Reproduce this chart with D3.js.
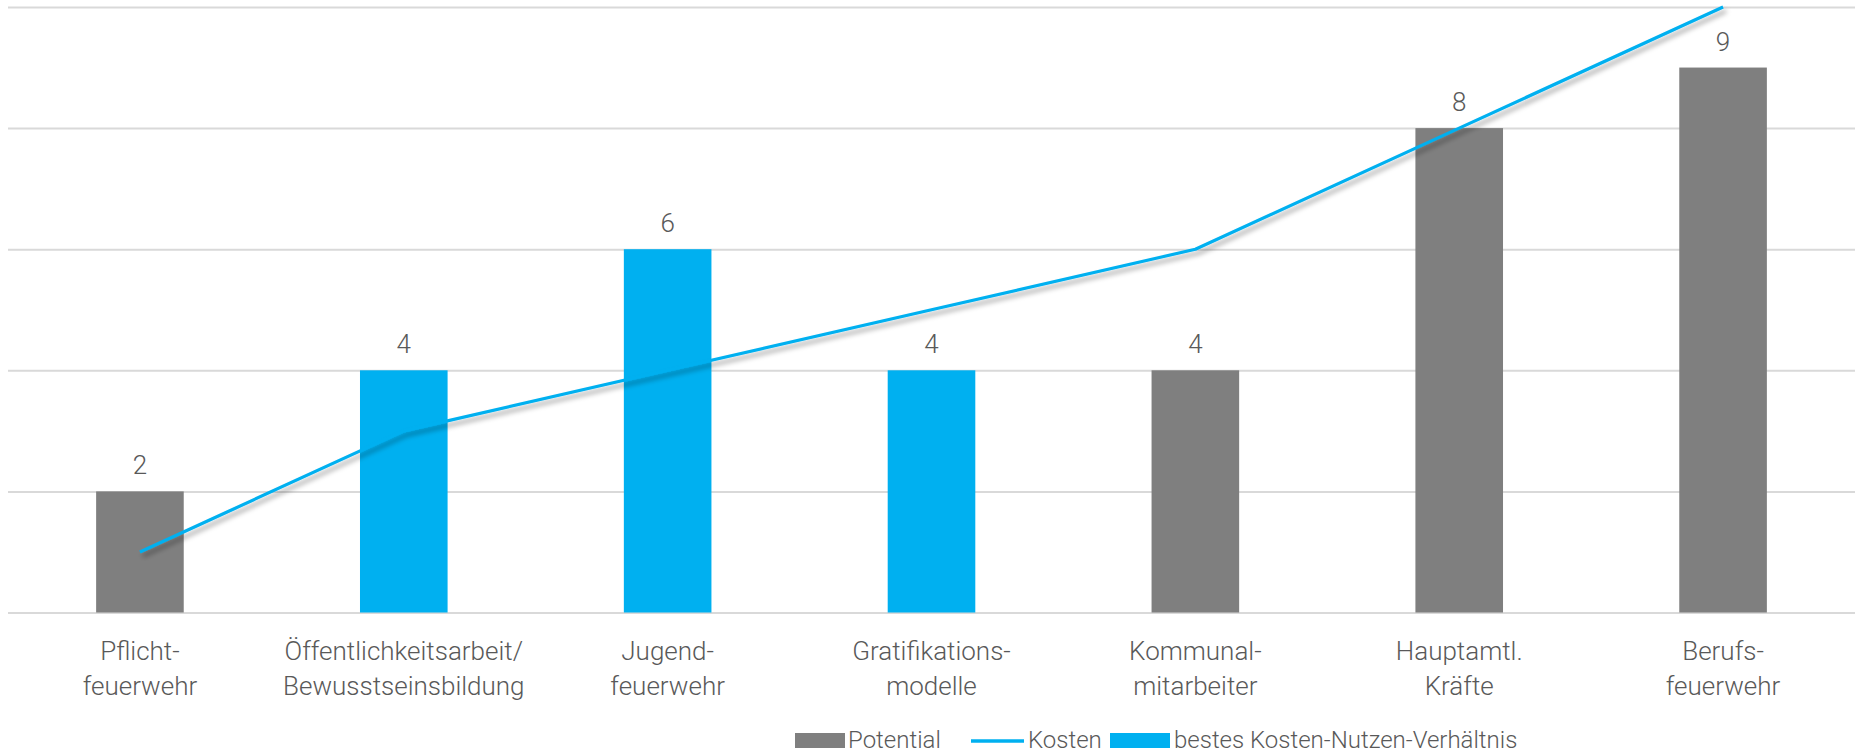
<!DOCTYPE html>
<html>
<head>
<meta charset="utf-8">
<script src="https://cdn.jsdelivr.net/npm/d3@7"></script>
<style>
  html, body { margin: 0; padding: 0; background: #fff; }
  svg { display: block; }
  text { font-family: Roboto, "Open Sans", sans-serif; font-weight: 300; fill: #595959; }
</style>
</head>
<body>
<svg id="chart" width="1857" height="754"></svg>
<script>
const categories = [
  ["Pflicht-", "feuerwehr"],
  ["Öffentlichkeitsarbeit/", "Bewusstseinsbildung"],
  ["Jugend-", "feuerwehr"],
  ["Gratifikations-", "modelle"],
  ["Kommunal-", "mitarbeiter"],
  ["Hauptamtl.", "Kräfte"],
  ["Berufs-", "feuerwehr"]
];
const potential = [2, 4, 6, 4, 4, 8, 9];
const bestRatio = [false, true, true, true, false, false, false];
const kosten = [1, 3, 4, 5, 6, 8, 10];
const yTicks = [0, 2, 4, 6, 8, 10];
const legendLabels = ["Potential", "Kosten", "bestes Kosten-Nutzen-Verhältnis"];

const colGray = "#7F7F7F", colBlue = "#00B0F0", colGrid = "#D9D9D9";

const svg = d3.select("#chart");
const plotLeft = 8, plotRight = 1855, plotTop = 7, plotBottom = 612.5;

const x = d3.scaleBand().domain(d3.range(categories.length)).range([plotLeft, plotRight]).paddingInner(0.668).paddingOuter(0.334);
const y = d3.scaleLinear().domain([0, 10]).range([plotBottom, plotTop]);

const defs = svg.append("defs");
const f = defs.append("filter").attr("id", "shadow").attr("x", "-10%").attr("y", "-10%").attr("width", "120%").attr("height", "130%");
f.append("feDropShadow").attr("dx", 3).attr("dy", 4).attr("stdDeviation", 2.5).attr("flood-color", "#000").attr("flood-opacity", 0.35);

// gridlines
const yAxis = d3.axisLeft(y).tickValues(yTicks).tickSize(-(plotRight - plotLeft)).tickFormat("");
const ga = svg.append("g").attr("transform", `translate(${plotLeft},0)`).call(yAxis);
ga.select(".domain").remove();
ga.selectAll(".tick line").attr("stroke", colGrid).attr("stroke-width", 2);

// bars
svg.append("g").selectAll("rect").data(potential).join("rect")
  .attr("x", (d, i) => x(i))
  .attr("width", x.bandwidth())
  .attr("y", d => y(d))
  .attr("height", d => y(0) - y(d))
  .attr("fill", (d, i) => bestRatio[i] ? colBlue : colGray);

// data labels
svg.append("g").selectAll("text").data(potential).join("text")
  .attr("x", (d, i) => x(i) + x.bandwidth() / 2)
  .attr("y", d => y(d) - 17)
  .attr("text-anchor", "middle")
  .attr("font-size", 26)
  .text(d => d);

// line
const line = d3.line().x((d, i) => x(i) + x.bandwidth() / 2).y(d => y(d));
svg.append("path").datum(kosten)
  .attr("d", line)
  .attr("fill", "none")
  .attr("stroke", colBlue)
  .attr("stroke-width", 3.2)
  .attr("stroke-linejoin", "round")
  .attr("filter", "url(#shadow)");

// category labels
const cl = svg.append("g").selectAll("text").data(categories).join("text")
  .attr("text-anchor", "middle")
  .attr("font-size", 26);
cl.each(function(d, i) {
  const t = d3.select(this);
  d.forEach((s, j) => {
    t.append("tspan").attr("x", x(i) + x.bandwidth() / 2).attr("y", 660 + j * 34.5).text(s);
  });
});

// legend
const lg = svg.append("g").attr("transform", "translate(0,748)");
lg.append("rect").attr("x", 795).attr("y", -15).attr("width", 50).attr("height", 15).attr("fill", colGray);
lg.append("text").attr("x", 848).attr("y", 0).attr("font-size", 24).text(legendLabels[0]);
lg.append("line").attr("x1", 971).attr("x2", 1024).attr("y1", -7).attr("y2", -7).attr("stroke", colBlue).attr("stroke-width", 3.5);
lg.append("text").attr("x", 1028).attr("y", 0).attr("font-size", 24).text(legendLabels[1]);
lg.append("rect").attr("x", 1110).attr("y", -15).attr("width", 60).attr("height", 15).attr("fill", colBlue);
lg.append("text").attr("x", 1174).attr("y", 0).attr("font-size", 24).text(legendLabels[2]);
</script>
</body>
</html>
